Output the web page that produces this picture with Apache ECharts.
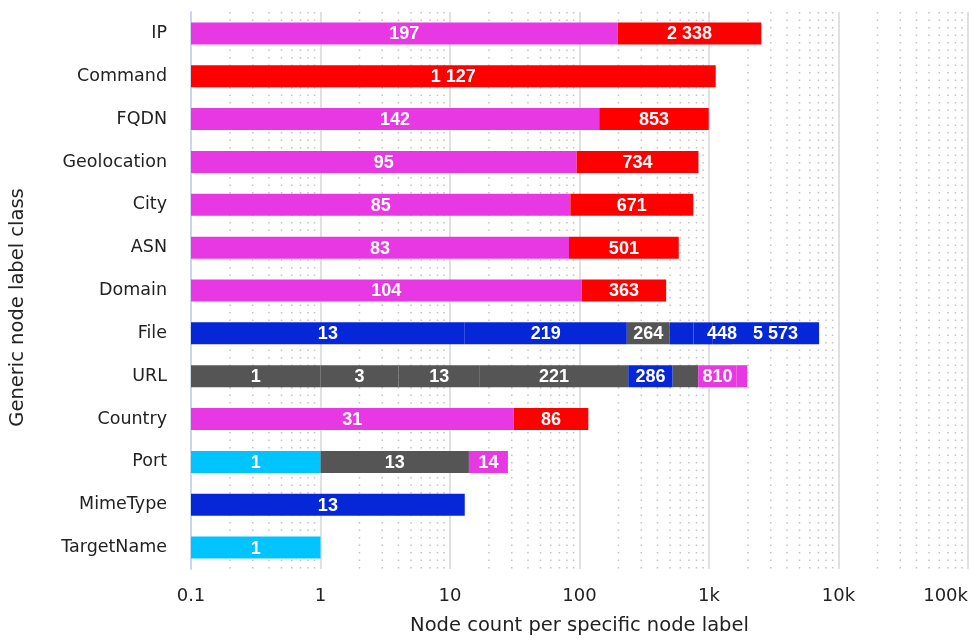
<!DOCTYPE html>
<html>
<head>
<meta charset="utf-8">
<title>Node count per specific node label</title>
<script src="https://cdn.jsdelivr.net/npm/echarts@6/dist/echarts.min.js"></script>
<style>
  html, body { margin: 0; padding: 0; background: #ffffff; }
  #chart { width: 971px; height: 641px; }
</style>
</head>
<body>
<div id="chart"></div>
<script>
// Generic node label classes, top to bottom
const categories = ['IP', 'Command', 'FQDN', 'Geolocation', 'City', 'ASN', 'Domain',
                    'File', 'URL', 'Country', 'Port', 'MimeType', 'TargetName'];

// Palette of specific node label groups
const MAGENTA = '#e838e3';
const RED = '#ff0000';
const BLUE = '#0527d8';
const GREY = '#555555';
const CYAN = '#00c4ff';

// Node counts of the specific labels inside each class, stacked left to right
const ipValues = [197, 2338];
const ipColors = [MAGENTA, RED];
const commandValues = [1127];
const commandColors = [RED];
const fqdnValues = [142, 853];
const fqdnColors = [MAGENTA, RED];
const geolocationValues = [95, 734];
const geolocationColors = [MAGENTA, RED];
const cityValues = [85, 671];
const cityColors = [MAGENTA, RED];
const asnValues = [83, 501];
const asnColors = [MAGENTA, RED];
const domainValues = [104, 363];
const domainColors = [MAGENTA, RED];
const fileValues = [13, 219, 264, 262, 300, 448, 5573];
const fileColors = [BLUE, BLUE, GREY, BLUE, BLUE, BLUE, BLUE];
const fileUnlabeled = [3, 4];
const urlValues = [1, 3, 13, 221, 286, 302, 810, 341];
const urlColors = [GREY, GREY, GREY, GREY, BLUE, GREY, MAGENTA, MAGENTA];
const urlUnlabeled = [5, 7];
const countryValues = [31, 86];
const countryColors = [MAGENTA, RED];
const portValues = [1, 13, 14];
const portColors = [CYAN, GREY, MAGENTA];
const mimeTypeValues = [13];
const mimeTypeColors = [BLUE];
const targetNameValues = [1];
const targetNameColors = [CYAN];

// Log axis tick labels, one per decade from 0.1 to 100k
const tickLabels = ['0.1', '1', '10', '100', '1k', '10k', '100k'];
const AXIS_MIN = 0.1;
const AXIS_MAX = 100000;
// Minor grid lines at 2..9 of every decade
const minorSteps = [2, 3, 4, 5, 6, 7, 8, 9];
const decades = [0.1, 1, 10, 100, 1000, 10000];

const rows = [
  [ipValues, ipColors, []],
  [commandValues, commandColors, []],
  [fqdnValues, fqdnColors, []],
  [geolocationValues, geolocationColors, []],
  [cityValues, cityColors, []],
  [asnValues, asnColors, []],
  [domainValues, domainColors, []],
  [fileValues, fileColors, fileUnlabeled],
  [urlValues, urlColors, urlUnlabeled],
  [countryValues, countryColors, []],
  [portValues, portColors, []],
  [mimeTypeValues, mimeTypeColors, []],
  [targetNameValues, targetNameColors, []]
];

// Stacked segments: [start, end, category index, value, color, show label]
const segments = [];
rows.forEach(function (row, ci) {
  let cum = 0;
  row[0].forEach(function (v, si) {
    const start = cum === 0 ? AXIS_MIN : cum;
    cum += v;
    segments.push([start, cum, ci, v, row[1][si], row[2].indexOf(si) < 0 ? 1 : 0]);
  });
});

const minorLines = [];
decades.forEach(function (d) {
  minorSteps.forEach(function (k) { minorLines.push([d * k]); });
});

function formatCount(v) {
  return String(v).replace(/\B(?=(\d{3})+(?!\d))/g, ' ');
}

const BAR_HEIGHT = 22;

function renderSegment(params, api) {
  const seg = segments[params.dataIndex];
  const cat = api.value(2);
  const p0 = api.coord([api.value(0), cat]);
  const p1 = api.coord([api.value(1), cat]);
  const x = p0[0];
  const w = p1[0] - p0[0];
  const y = p0[1] - BAR_HEIGHT / 2;
  const children = [{
    type: 'rect',
    shape: { x: x, y: y, width: w, height: BAR_HEIGHT },
    style: { fill: seg[4] },
    z2: 0
  }];
  if (seg[5]) {
    children.push({
      type: 'text',
      style: {
        text: formatCount(seg[3]),
        x: x + w / 2,
        y: p0[1] + 1,
        align: 'center',
        verticalAlign: 'middle',
        fill: '#ffffff',
        font: 'bold 18px "Liberation Sans", Arial, sans-serif'
      },
      z2: 10
    });
  }
  return { type: 'group', children: children };
}

function renderMinorLine(params, api) {
  const cs = params.coordSys;
  const px = api.coord([api.value(0), 0])[0];
  return {
    type: 'line',
    shape: { x1: px, y1: cs.y, x2: px, y2: cs.y + cs.height },
    style: { stroke: '#c2c2c2', lineWidth: 1.5, lineDash: [1.5, 6] }
  };
}

const chart = echarts.init(document.getElementById('chart'), null, { renderer: 'canvas' });

chart.setOption({
  animation: false,
  backgroundColor: '#ffffff',
  textStyle: { fontFamily: '"DejaVu Sans", sans-serif' },
  grid: { left: 190, right: 0, top: 12, bottom: 68, containLabel: false },
  xAxis: {
    type: 'log',
    logBase: 10,
    min: AXIS_MIN,
    max: AXIS_MAX,
    name: 'Node count per specific node label',
    nameLocation: 'middle',
    nameGap: 47,
    nameTextStyle: { fontSize: 19.5, color: '#222222', fontFamily: '"DejaVu Sans", sans-serif' },
    axisLine: { show: false },
    axisTick: { show: false },
    axisLabel: {
      fontSize: 18,
      color: '#222222',
      margin: 18,
      fontFamily: '"DejaVu Sans", sans-serif',
      alignMaxLabel: 'right',
      formatter: function (v) {
        return tickLabels[Math.round(Math.log10(v)) + 1];
      }
    },
    splitLine: { show: true, lineStyle: { color: '#e0e0e0', width: 2 } }
  },
  yAxis: {
    type: 'category',
    data: categories,
    inverse: true,
    name: 'Generic node label class',
    nameLocation: 'middle',
    nameGap: 163,
    nameTextStyle: {
      fontSize: 19.5,
      color: '#222222',
      fontFamily: '"DejaVu Sans", sans-serif',
      padding: [0, 34, 0, 0]
    },
    axisLine: { show: true, lineStyle: { color: '#ccd6eb', width: 2 } },
    axisTick: { show: false },
    axisLabel: { fontSize: 17.5, color: '#222222', margin: 24, fontFamily: '"DejaVu Sans", sans-serif' },
    splitLine: { show: false }
  },
  series: [
    {
      type: 'custom',
      name: 'minor grid',
      silent: true,
      z: 1,
      renderItem: renderMinorLine,
      encode: { x: 0 },
      data: minorLines
    },
    {
      type: 'custom',
      name: 'segments',
      z: 3,
      renderItem: renderSegment,
      encode: { x: [0, 1], y: 2 },
      data: segments
    }
  ]
});
</script>
</body>
</html>
